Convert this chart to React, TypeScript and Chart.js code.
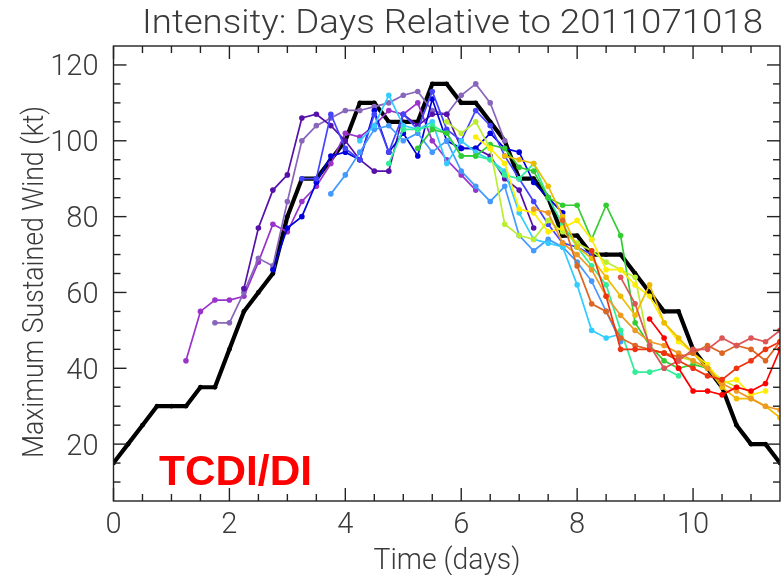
import React, { useEffect, useRef } from "react";
import { Chart, registerables } from "chart.js";
Chart.register(...registerables);

// ---------------- data ----------------
const titleText = "Intensity: Days Relative to 2011071018";
const xTitle = "Time (days)";
const yTitle = "Maximum Sustained Wind (kt)";
const badge = "TCDI/DI";

const xTickLabels = [0, 2, 4, 6, 8, 10];
const xMinorTicks = [0.5, 1, 1.5, 2.5, 3, 3.5, 4.5, 5, 5.5, 6.5, 7, 7.5, 8.5, 9, 9.5, 10.5, 11];
const yTickLabels = [20, 40, 60, 80, 100, 120];
const yMinorTicks = [10, 15, 25, 30, 35, 45, 50, 55, 65, 70, 75, 85, 90, 95, 105, 110, 115];

const stepDays = 0.25; // 6-hourly samples

const bestTrackStart = 0;
const bestTrack = [15, 20, 25, 30, 30, 30, 35, 35, 45, 55, 60, 65, 80, 90, 90, 95, 100, 110, 110, 105, 105, 105, 115, 115, 110, 110, 105, 100, 90, 90, 85, 75, 75, 70, 70, 70, 65, 60, 55, 55, 45, 40, 35, 25, 20, 20, 15];

const fcStarts = [1.25, 1.75, 2.25, 2.75, 3.25, 3.75, 4.25, 4.75, 5.25, 5.75, 6.25, 6.75, 7.25, 7.75, 8.25, 8.75, 9.25];
const fcColors = ["#9933cc", "#8866bb", "#5511aa", "#0000dd", "#4444ff", "#4499ff", "#33ccff", "#33ee99", "#33cc33", "#bbee33", "#ffee00", "#eebb00", "#ee9922", "#dd6622", "#ee3311", "#dd5555", "#ff0000"];

const fc01 = [42, 55, 58, 58, 59, 68, 78, 76, 84, 88, 94, 102, 101, 104, 108, 107, 110, 100, 95, 91, 87];
const fc02 = [52, 52, 60, 69, 67, 84, 100, 104, 106, 108, 108, 109, 110, 112, 113, 108, 107, 112, 115, 110, 100];
const fc03 = [61, 77, 87, 91, 106, 107, 104, 100, 95, 92, 92, 107, 104, 107, 107, 98, 98, 96, 90, 87, 77];
const fc04 = [66, 77, 80, 89, 96, 97, 95, 108, 97, 102, 96, 111, 100, 98, 98, 102, 98, 97, 89, 85, 81];
const fc05 = [90, 90, 107, 98, 95, 107, 97, 107, 103, 113, 103, 100, 108, 104, 96, 90, 84, 78, 73, 72, 70];
const fc06 = [86, 91, 97, 103, 104, 100, 102, 97, 100, 92, 88, 84, 88, 75, 71, 74, 72, 68, 63, 55, 47];
const fc07 = [100, 104, 112, 104, 103, 105, 94, 100, 97, 95, 92, 81, 74, 73, 72, 62, 50, 48, 49];
const fc08 = [94, 103, 103, 104, 102, 96, 96, 95, 91, 90, 94, 85, 78, 72, 67, 62, 50, 39, 39, 40, 38];
const fc09 = [98, 103, 102, 96, 96, 99, 98, 93, 92, 85, 83, 83, 74, 83, 75, 52, 46, 42, 40, 41, 40];
const fc10 = [105, 102, 105, 98, 78, 75, 74, 79, 76, 73, 71, 68, 66, 64, 45, 44, 43, 42, 40, 37, 35];
const fc11 = [101, 98, 94, 82, 81, 76, 77, 79, 74, 66, 66, 62, 59, 52, 47, 44, 41, 36, 37, 33, 34];
const fc12 = [96, 95, 94, 88, 80, 72, 69, 64, 59, 54, 62, 52, 48, 44, 40, 35, 32, 32, 30, 27];
const fc13 = [82, 81, 73, 70, 66, 59, 54, 50, 47, 46, 44, 42, 40, 36, 34, 32, 30, 29];
const fc14 = [79, 67, 57, 55, 48, 46, 45, 44, 43, 44, 46, 44, 46, 45, 42, 47];
const fc15 = [71, 59, 45, 45, 45, 44, 42, 40, 38, 37, 40, 42, 45, 47];
const fc16 = [64, 57, 46, 40, 42, 45, 45, 48, 46, 48, 47, 50];
const fc17 = [53, 48, 40, 34, 34, 33, 35, 34, 36, 45];

const forecasts = [fc01, fc02, fc03, fc04, fc05, fc06, fc07, fc08, fc09, fc10, fc11, fc12, fc13, fc14, fc15, fc16, fc17];

// ---------------- helpers ----------------
const toPoints = (start: number, vals: number[]) => vals.map((v, i) => ({ x: start + i * stepDays, y: v }));

function drawText(
  ctx: CanvasRenderingContext2D,
  text: string,
  x: number,
  y: number,
  font: string,
  color: string,
  opts: { width?: number; sx?: number; align: CanvasTextAlign; rotate?: number }
) {
  ctx.save();
  ctx.font = font;
  ctx.fillStyle = color;
  const w = ctx.measureText(text).width;
  const sx = opts.width ? opts.width / w : opts.sx ?? 1;
  ctx.translate(x, y);
  if (opts.rotate) ctx.rotate(opts.rotate);
  ctx.scale(sx, 1);
  ctx.textAlign = opts.align;
  ctx.textBaseline = "alphabetic";
  ctx.fillText(text, 0, 0);
  ctx.restore();
}

const TXT = "#3a3a3a";
const LABEL_FONT = "300 29px Roboto, 'DejaVu Sans', sans-serif";

const framePlugin = {
  id: "idlFrame",
  afterDatasetsDraw(chart: any) {
    const { ctx, chartArea: a, scales } = chart;
    const xs = scales.x;
    const ys = scales.y;
    ctx.save();
    ctx.strokeStyle = "#222";
    ctx.lineWidth = 1.4;
    ctx.strokeRect(a.left, a.top, a.right - a.left, a.bottom - a.top);
    const seg = (x1: number, y1: number, x2: number, y2: number) => {
      ctx.beginPath();
      ctx.moveTo(x1, y1);
      ctx.lineTo(x2, y2);
      ctx.stroke();
    };
    const MAJ = 13;
    const MIN = 7;
    for (const v of xTickLabels) {
      const p = xs.getPixelForValue(v);
      seg(p, a.bottom, p, a.bottom - MAJ);
      seg(p, a.top, p, a.top + MAJ);
    }
    for (const v of xMinorTicks) {
      const p = xs.getPixelForValue(v);
      seg(p, a.bottom, p, a.bottom - MIN);
      seg(p, a.top, p, a.top + MIN);
    }
    for (const v of yTickLabels) {
      const p = ys.getPixelForValue(v);
      seg(a.left, p, a.left + MAJ, p);
      seg(a.right, p, a.right - MAJ, p);
    }
    for (const v of yMinorTicks) {
      const p = ys.getPixelForValue(v);
      seg(a.left, p, a.left + MIN, p);
      seg(a.right, p, a.right - MIN, p);
    }
    ctx.restore();
  },
  afterDraw(chart: any) {
    const { ctx, chartArea: a, scales } = chart;
    const xs = scales.x;
    const ys = scales.y;
    for (const v of xTickLabels) {
      drawText(ctx, String(v), xs.getPixelForValue(v), 533, LABEL_FONT, TXT, { sx: 1.0, align: "center" });
    }
    for (const v of yTickLabels) {
      drawText(ctx, String(v), a.left - 15, ys.getPixelForValue(v) + 10.5, LABEL_FONT, TXT, { sx: 1.0, align: "right" });
    }
    drawText(ctx, titleText, 452.5, 32.5, "300 33px Roboto, 'DejaVu Sans', sans-serif", TXT, { width: 621, align: "center" });
    drawText(ctx, xTitle, 447, 569, LABEL_FONT, TXT, { width: 147, align: "center" });
    drawText(ctx, yTitle, 43, 282, LABEL_FONT, TXT, { width: 352, align: "center", rotate: -Math.PI / 2 });
    drawText(ctx, badge, 159, 485, "bold 42px 'Liberation Sans', Arial, sans-serif", "#ff0000", { width: 153, align: "left" });
  },
};

export default function App() {
  const ref = useRef<HTMLCanvasElement | null>(null);
  useEffect(() => {
    if (!ref.current) return;
    const datasets: any[] = forecasts.map((vals, i) => ({
      label: `fc${i + 1}`,
      data: toPoints(fcStarts[i], vals),
      borderColor: fcColors[i],
      backgroundColor: fcColors[i],
      pointBackgroundColor: fcColors[i],
      pointBorderWidth: 0,
      pointRadius: 2.8,
      borderWidth: 1.7,
      order: forecasts.length - i,
    }));
    datasets.push({
      label: "best track",
      data: toPoints(bestTrackStart, bestTrack),
      borderColor: "#000000",
      backgroundColor: "#000000",
      pointBackgroundColor: "#000000",
      pointBorderWidth: 0,
      pointRadius: 2.4,
      borderWidth: 4.2,
      borderJoinStyle: "round",
      order: 100,
    });
    const chart = new Chart(ref.current, {
      type: "line",
      data: { datasets },
      options: {
        animation: false,
        responsive: false,
        devicePixelRatio: 1,
        layout: { padding: { left: 113.5, right: 1.5, top: 46, bottom: 74 } },
        plugins: { legend: { display: false }, tooltip: { enabled: false }, title: { display: false } },
        elements: { line: { tension: 0 } },
        scales: {
          x: { type: "linear", min: 0, max: 11.5, display: false },
          y: { type: "linear", min: 5, max: 125, display: false },
        },
      },
      plugins: [framePlugin],
    } as any);
    return () => chart.destroy();
  }, []);
  return (
    <div style={{ position: "fixed", left: 0, top: 0, width: 784, height: 575, background: "#fff" }}>
      <canvas ref={ref} width={784} height={575} style={{ display: "block" }} />
    </div>
  );
}
